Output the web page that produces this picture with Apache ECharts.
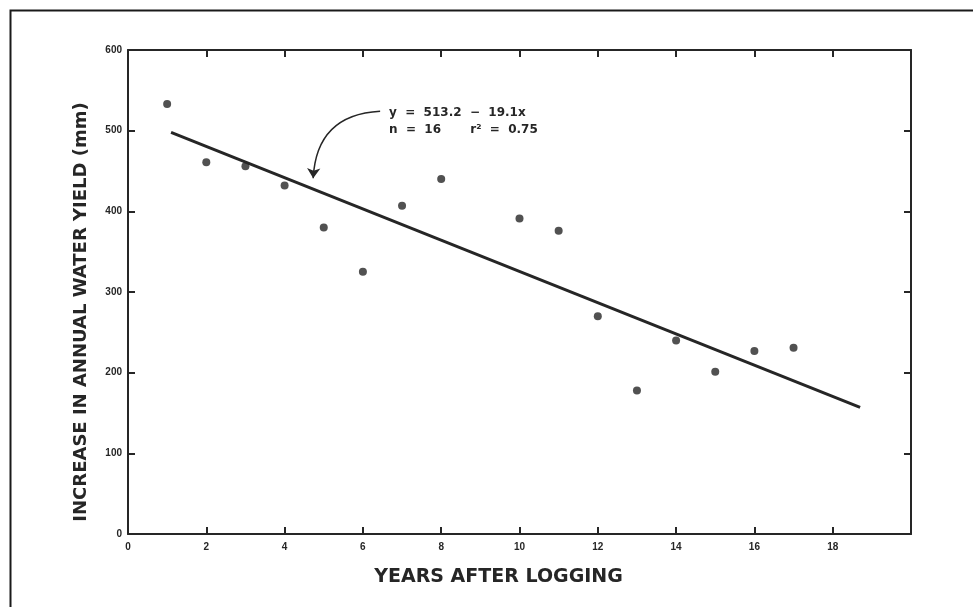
<!DOCTYPE html>
<html>
<head>
<meta charset="utf-8">
<script src="https://cdn.jsdelivr.net/npm/echarts@6/dist/echarts.min.js"></script>
<style>
  html, body { margin: 0; padding: 0; background: #fff; }
  #chart { width: 973px; height: 607px; }
</style>
</head>
<body>
<div id="chart"></div>
<script>
// years after logging / increase in water yield (mm)
var years = [1, 2, 3, 4, 5, 6, 7, 8, 10, 11, 12, 13, 14, 15, 16, 17]
var yieldMm = [533, 461, 456, 432, 380, 325, 407, 440, 391, 376, 270, 178, 240, 201, 227, 231]
// fitted line ends, y = 513.2 - 19.1x
var fitX = [1.1, 18.7]
var fitY = [498, 157]
// arrow from the equation to the line
var arrowFrom = [6.44, 524]
var arrowTo = [4.73, 441]
var xTicks = ['0', '2', '4', '6', '8', '10', '12', '14', '16', '18']
var yTicks = ['0', '100', '200', '300', '400', '500', '600']
var eqLines = ['y  =  513.2  \u2212  19.1x', 'n  =  16       r\u00b2  =  0.75']

var ink = '#262626'
var font = 'Liberation Sans, Arial, sans-serif'
var wide = 'DejaVu Sans, sans-serif'

var chart = echarts.init(document.getElementById('chart'))

var pts = years.map(function (x, i) { return [x, yieldMm[i]] })
var fit = fitX.map(function (x, i) { return [x, fitY[i]] })

// one side of the frame, ticks pointing into the plot
function frameAxis (pos, max, step, labels, margin) {
  return {
    type: 'value', min: 0, max: max, interval: step, position: pos,
    axisLine: { show: true, onZero: false, lineStyle: { color: ink, width: 2 } },
    axisTick: { show: true, inside: true, length: 7, lineStyle: { color: ink, width: 2 } },
    axisLabel: {
      show: true, color: ink, fontFamily: font, fontWeight: 'bold', fontSize: 10, margin: margin,
      formatter: function (v) { return labels.indexOf(String(v)) >= 0 ? String(v) : '' }
    },
    splitLine: { show: false }
  }
}

var xMain = frameAxis('bottom', 20, 2, xTicks, 8)
xMain.name = 'YEARS AFTER LOGGING'
xMain.nameLocation = 'middle'
xMain.nameGap = 34
xMain.nameTextStyle = { color: ink, fontFamily: wide, fontWeight: 'bold', fontSize: 19, padding: [0, 42, 0, 0] }

var yMain = frameAxis('left', 600, 100, yTicks, 6)
yMain.name = 'INCREASE IN ANNUAL WATER YIELD (mm)'
yMain.nameLocation = 'middle'
yMain.nameGap = 38
yMain.nameTextStyle = { color: ink, fontFamily: wide, fontWeight: 'bold', fontSize: 18, padding: [0, 40, 0, 0] }

var option = {
  animation: false,
  backgroundColor: '#fff',
  grid: { left: 128, right: 62, top: 50, bottom: 73 },
  xAxis: [xMain, frameAxis('top', 20, 2, [], 8)],
  yAxis: [yMain, frameAxis('right', 600, 100, [], 6)],
  series: [
    {
      type: 'line',
      xAxisIndex: 1,
      yAxisIndex: 1,
      data: fit,
      symbol: 'none',
      lineStyle: { color: ink, width: 3 },
      z: 2
    },
    {
      type: 'scatter',
      data: pts,
      symbol: 'circle',
      symbolSize: 8,
      itemStyle: { color: ink },
      z: 3
    },
    {
      type: 'lines',
      coordinateSystem: 'cartesian2d',
      silent: true,
      symbol: ['none', 'arrow'],
      symbolSize: 10,
      lineStyle: { color: ink, width: 1.5, curveness: -0.45, opacity: 1 },
      data: [{ coords: [arrowFrom, arrowTo] }],
      z: 4
    }
  ],
  graphic: [
    {
      type: 'rect', left: 8, top: 8, silent: true,
      shape: { width: 980, height: 620 },
      style: { fill: 'none', stroke: '#1a1a1a', lineWidth: 2 }
    },
    {
      type: 'text', left: 389, top: 104,
      style: { text: eqLines.join('\n'), fill: ink, font: 'bold 12px ' + wide, lineHeight: 17 }
    }
  ]
}
chart.setOption(option)
</script>
</body>
</html>
